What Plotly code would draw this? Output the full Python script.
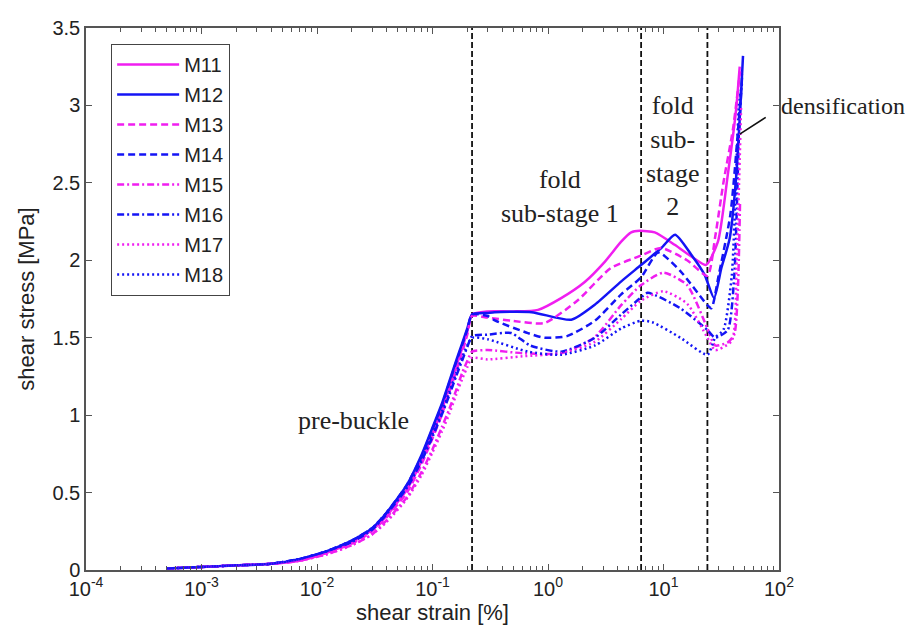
import plotly.graph_objects as go

# ---------------- data ----------------
PRE_X = [5e-4, 1e-3, 2e-3, 4e-3, 7e-3, 0.012, 0.02, 0.03, 0.04, 0.06, 0.08, 0.1, 0.12, 0.14, 0.16, 0.18, 0.2, 0.22]

M11_PRE = [0.01, 0.02, 0.03, 0.04, 0.06, 0.11, 0.18, 0.26, 0.35, 0.52, 0.70, 0.88, 1.03, 1.18, 1.31, 1.43, 1.54, 1.65]
M12_PRE = [0.01, 0.02, 0.03, 0.04, 0.07, 0.12, 0.19, 0.27, 0.37, 0.55, 0.74, 0.92, 1.07, 1.22, 1.35, 1.46, 1.56, 1.65]
M13_PRE = [0.01, 0.02, 0.03, 0.04, 0.06, 0.11, 0.17, 0.25, 0.34, 0.50, 0.68, 0.85, 1.00, 1.15, 1.28, 1.40, 1.52, 1.64]
M14_PRE = [0.01, 0.02, 0.03, 0.04, 0.07, 0.12, 0.19, 0.27, 0.37, 0.55, 0.73, 0.91, 1.06, 1.21, 1.34, 1.45, 1.55, 1.65]
M15_PRE = [0.01, 0.02, 0.03, 0.04, 0.06, 0.10, 0.16, 0.23, 0.32, 0.47, 0.63, 0.78, 0.92, 1.04, 1.16, 1.27, 1.35, 1.41]
M16_PRE = [0.01, 0.02, 0.03, 0.04, 0.07, 0.12, 0.18, 0.26, 0.36, 0.53, 0.70, 0.86, 1.00, 1.13, 1.25, 1.35, 1.44, 1.51]
M17_PRE = [0.01, 0.02, 0.03, 0.04, 0.06, 0.10, 0.16, 0.23, 0.31, 0.46, 0.61, 0.76, 0.89, 1.01, 1.13, 1.23, 1.31, 1.37]
M18_PRE = [0.01, 0.02, 0.03, 0.04, 0.07, 0.12, 0.19, 0.27, 0.37, 0.54, 0.72, 0.88, 1.02, 1.15, 1.27, 1.37, 1.45, 1.50]

M11_POST_X = [0.3, 0.5, 0.82, 1.3, 2.08, 3.1, 4.3, 5.25, 6.2, 8.4, 12.5, 18.6, 23.4, 29.6, 36, 42.6, 45.7]
M11_POST_Y = [1.67, 1.67, 1.68, 1.756, 1.86, 1.99, 2.12, 2.18, 2.19, 2.18, 2.10, 2.01, 1.97, 2.12, 2.55, 2.98, 3.25]

M12_POST_X = [0.3, 0.345, 0.72, 1.59, 2.54, 4.31, 6.43, 9.57, 12.6, 17.4, 22.7, 27.4, 31.7, 37.4, 42.7, 48.8]
M12_POST_Y = [1.66, 1.665, 1.665, 1.616, 1.713, 1.864, 1.971, 2.079, 2.165, 2.036, 1.906, 1.756, 1.95, 2.14, 2.55, 3.32]

M13_POST_X = [0.3, 0.48, 0.93, 1.8, 3.5, 6.4, 9.5, 16, 24, 28, 33, 40, 46]
M13_POST_Y = [1.63, 1.61, 1.595, 1.74, 1.95, 2.03, 2.08, 2.0, 1.90, 2.15, 2.5, 2.85, 3.22]

M14_POST_X = [0.3, 0.35, 0.67, 0.93, 1.46, 2.55, 4.3, 6.4, 9.0, 14, 24, 26, 30, 38, 47]
M14_POST_Y = [1.64, 1.61, 1.53, 1.50, 1.51, 1.61, 1.78, 1.89, 2.05, 1.93, 1.71, 1.69, 1.9, 2.3, 3.1]

M15_POST_X = [0.3, 0.6, 1.3, 2.5, 4.3, 6.4, 10, 16, 24, 28, 36, 41, 44, 46]
M15_POST_Y = [1.42, 1.40, 1.40, 1.50, 1.71, 1.84, 1.92, 1.84, 1.56, 1.45, 1.47, 1.52, 1.8, 2.38]

M16_POST_X = [0.3, 0.48, 0.7, 1.3, 2.55, 4.3, 6.4, 7.3, 14, 24, 28, 36, 41, 45, 48]
M16_POST_Y = [1.52, 1.53, 1.45, 1.41, 1.50, 1.65, 1.76, 1.79, 1.69, 1.55, 1.50, 1.55, 1.9, 2.8, 3.2]

M17_POST_X = [0.3, 0.6, 1.3, 2.5, 4.3, 6.4, 10, 16, 24, 28, 39, 43, 47]
M17_POST_Y = [1.36, 1.38, 1.40, 1.47, 1.62, 1.74, 1.80, 1.72, 1.50, 1.42, 1.48, 2.0, 3.0]

M18_POST_X = [0.3, 0.67, 1.3, 2.55, 4.3, 6.4, 8, 14, 24, 28, 33, 39, 45, 48]
M18_POST_Y = [1.49, 1.41, 1.39, 1.45, 1.56, 1.61, 1.60, 1.50, 1.39, 1.50, 1.55, 1.9, 3.0, 3.15]

SERIES_NAMES = ["M11", "M12", "M13", "M14", "M15", "M16", "M17", "M18"]
STAGE_BOUNDARIES = [0.22, 6.4, 24]

X_TICK_VALS = [1e-4, 1e-3, 1e-2, 1e-1, 1e0, 1e1, 1e2]
X_TICK_TEXT = ["10<sup>-4</sup>", "10<sup>-3</sup>", "10<sup>-2</sup>", "10<sup>-1</sup>",
               "10<sup>0</sup>", "10<sup>1</sup>", "10<sup>2</sup>"]
Y_TICK_VALS = [0, 0.5, 1, 1.5, 2, 2.5, 3, 3.5]
Y_TICK_TEXT = ["0", "0.5", "1", "1.5", "2", "2.5", "3", "3.5"]

# ---------------- styles ----------------
MAGENTA = "#f01ef0"
BLUE = "#1414f5"
DASH = {"solid": "solid", "dash": "7px,4px", "dashdot": "7px,3px,2px,3px", "dot": "2px,3px"}

series = [
    ("M11", PRE_X + M11_POST_X, M11_PRE + M11_POST_Y, MAGENTA, "solid"),
    ("M12", PRE_X + M12_POST_X, M12_PRE + M12_POST_Y, BLUE, "solid"),
    ("M13", PRE_X + M13_POST_X, M13_PRE + M13_POST_Y, MAGENTA, "dash"),
    ("M14", PRE_X + M14_POST_X, M14_PRE + M14_POST_Y, BLUE, "dash"),
    ("M15", PRE_X + M15_POST_X, M15_PRE + M15_POST_Y, MAGENTA, "dashdot"),
    ("M16", PRE_X + M16_POST_X, M16_PRE + M16_POST_Y, BLUE, "dashdot"),
    ("M17", PRE_X + M17_POST_X, M17_PRE + M17_POST_Y, MAGENTA, "dot"),
    ("M18", PRE_X + M18_POST_X, M18_PRE + M18_POST_Y, BLUE, "dot"),
]

fig = go.Figure()

# stage boundaries (vertical dashed lines)
for xb in STAGE_BOUNDARIES:
    fig.add_trace(go.Scatter(x=[xb, xb], y=[0, 3.5], mode="lines",
                             line=dict(color="#111111", width=1.8, dash="6px,3px"),
                             showlegend=False, hoverinfo="skip"))

for name, xs, ys, color, style in series:
    fig.add_trace(go.Scatter(x=xs, y=ys, mode="lines", name=name, legendgroup=name,
                             line=dict(color=color, width=2.5, dash=DASH[style], shape="spline", smoothing=0.6)))

axis_common = dict(showline=True, linecolor="#555555", linewidth=1.5, mirror="ticks",
                   ticks="inside", ticklen=6, tickcolor="#555555", tickwidth=1.2,
                   showgrid=False, zeroline=False, automargin=False,
                   tickfont=dict(family="Liberation Sans, Arial, sans-serif", size=20, color="#222222"),
                   title_font=dict(family="Liberation Sans, Arial, sans-serif", size=22, color="#222222"))

fig.update_xaxes(type="log", range=[-4, 2], tickvals=X_TICK_VALS, ticktext=X_TICK_TEXT,
                 minor=dict(ticks="inside", ticklen=4, tickcolor="#555555", tickwidth=1,
                            dtick="D1", showgrid=False),
                 title_text="shear strain [%]", title_standoff=2, **axis_common)
fig.update_yaxes(range=[0, 3.5], tickvals=Y_TICK_VALS, ticktext=Y_TICK_TEXT,
                 title_text="shear stress [MPa]", title_standoff=12, **axis_common)

serif = dict(family="Liberation Serif, Times New Roman, serif", size=26, color="#222222")
fig.add_annotation(x=-1.688, y=0.968, xref="x", yref="y", text="pre-buckle", showarrow=False, font=serif)
fig.add_annotation(x=0.104, y=2.41, xref="x", yref="y", text="fold<br>sub-stage 1", showarrow=False, font=serif)
fig.add_annotation(x=1.082, y=2.676, xref="x", yref="y", text="fold<br>sub-<br>stage<br>2", showarrow=False, font=serif)
fig.add_annotation(x=1.0, y=0.857, xref="paper", yref="paper", text="densification", showarrow=False,
                   xanchor="left", yanchor="middle", font=dict(family=serif["family"], size=24, color="#222222"))
fig.add_annotation(x=1.66, y=2.815, xref="x", yref="y", text=" ", showarrow=True, arrowhead=0,
                   arrowwidth=1.6, arrowcolor="#111111", ax=28, ay=-18, font=dict(size=2))

fig.update_layout(
    width=913, height=632,
    margin=dict(l=78, r=142, t=20, b=70),
    paper_bgcolor="white", plot_bgcolor="white",
    showlegend=True,
    legend=dict(x=0.036, y=0.971, xanchor="left", yanchor="top",
                bordercolor="#444444", borderwidth=1.2, bgcolor="white",
                font=dict(family="Liberation Sans, Arial, sans-serif", size=20, color="#222222"),
                tracegroupgap=1, itemwidth=62),
)

fig.write_html("out.html")
